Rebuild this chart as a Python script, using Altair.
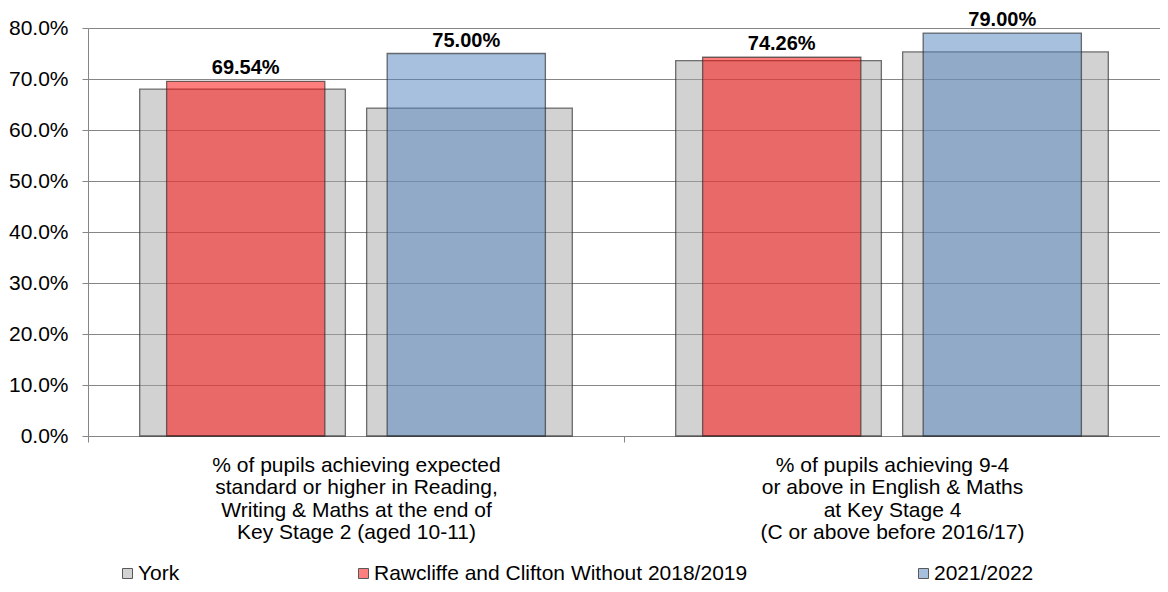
import altair as alt
import pandas as pd

# ---- data ----
categories = [
    "% of pupils achieving expected\nstandard or higher in Reading,\nWriting & Maths at the end of\nKey Stage 2 (aged 10-11)",
    "% of pupils achieving 9-4\nor above in English & Maths\nat Key Stage 4\n(C or above before 2016/17)",
]
periods = ["2018/2019", "2021/2022"]
york_2019 = [0.680, 0.736]
york_2022 = [0.643, 0.753]
local_2019 = [0.6954, 0.7426]
local_2022 = [0.7500, 0.7900]
legend_labels = ["York", "Rawcliffe and Clifton Without 2018/2019", "2021/2022"]
y_ticks = [0.0, 0.1, 0.2, 0.3, 0.4, 0.5, 0.6, 0.7, 0.8]

rows = []
for i, cat in enumerate(categories):
    rows.append({"category": cat, "period": periods[0], "york": york_2019[i],
                 "local": local_2019[i], "series": legend_labels[1], "yseries": legend_labels[0]})
    rows.append({"category": cat, "period": periods[1], "york": york_2022[i],
                 "local": local_2022[i], "series": legend_labels[2], "yseries": legend_labels[0]})
df = pd.DataFrame(rows)

FONT = "Liberation Sans"
GRID = "#868686"
STROKE = "rgba(40,40,40,0.65)"
FS = 21

x_enc = alt.X(
    "category:N",
    sort=categories,
    scale=alt.Scale(paddingInner=0, paddingOuter=0),
    axis=alt.Axis(
        title=None, labelAngle=0, labelExpr="split(datum.label, '\\n')",
        labelLineHeight=22.5, labelFontSize=FS, labelFont=FONT, labelColor="#000000",
        labelLimit=1000, tickBand="extent", tickSize=6, tickColor=GRID,
        domainColor=GRID, labelPadding=12, grid=False,
    ),
)

y_axis = alt.Axis(
    title=None, values=y_ticks, format=".1%", grid=True, gridColor=GRID, gridWidth=1,
    domainColor=GRID, tickColor=GRID, tickSize=6, labelPadding=14,
    labelFontSize=FS, labelFont=FONT, labelColor="#000000",
)
y_scale = alt.Scale(domain=[0, 0.8], nice=False)

york_off = alt.XOffset("period:N", scale=alt.Scale(type="band", domain=periods,
                                                    paddingInner=0.0937, paddingOuter=0.2277))
local_off = alt.XOffset("period:N", scale=alt.Scale(type="band", domain=periods,
                                                     paddingInner=0.2825, paddingOuter=0.3565))


def leg(x, y):
    return alt.Legend(
        orient="none", legendX=x, legendY=y, title=None, symbolType="square",
        symbolSize=100, symbolStrokeColor="#595959", symbolStrokeWidth=1,
        labelFontSize=FS, labelFont=FONT, labelColor="#000000", labelOffset=0,
        padding=0, labelLimit=1000,
    )


LEG_Y = 535

base = alt.Chart(df)

york = base.mark_bar(stroke=STROKE, strokeWidth=1.3).encode(
    x=x_enc, xOffset=york_off,
    y=alt.Y("york:Q", scale=y_scale, axis=y_axis, stack=None),
    color=alt.Color("yseries:N", scale=alt.Scale(domain=[legend_labels[0]], range=["rgba(166,166,166,0.5)"]),
                    legend=leg(29, LEG_Y)),
)

red = base.transform_filter(alt.datum.period == periods[0]).mark_bar(stroke=STROKE, strokeWidth=1.3).encode(
    x=x_enc, xOffset=local_off,
    y=alt.Y("local:Q", scale=y_scale, axis=y_axis, stack=None),
    color=alt.Color("series:N", scale=alt.Scale(domain=[legend_labels[1]], range=["rgba(255,0,0,0.5)"]),
                    legend=leg(265, LEG_Y)),
)

blue = base.transform_filter(alt.datum.period == periods[1]).mark_bar(stroke=STROKE, strokeWidth=1.3).encode(
    x=x_enc, xOffset=local_off,
    y=alt.Y("local:Q", scale=y_scale, axis=y_axis, stack=None),
    color=alt.Color("series:N", scale=alt.Scale(domain=[legend_labels[2]], range=["rgba(79,129,189,0.5)"]),
                    legend=leg(825, LEG_Y)),
)

labels = base.mark_text(fontWeight="bold", fontSize=20, font=FONT, dy=-7,
                        baseline="alphabetic", align="center", color="#000000").encode(
    x=x_enc, xOffset=local_off,
    y=alt.Y("local:Q", scale=y_scale, axis=y_axis, stack=None),
    text=alt.Text("local:Q", format=".2%"),
)

chart = alt.layer(york, red, blue, labels).resolve_scale(
    xOffset="independent", color="independent"
).properties(
    width=1072, height=408,
    autosize=alt.AutoSizeParams(type="none"),
    padding={"left": 80, "top": 20, "right": 0, "bottom": 148},
).configure_view(stroke=None).configure(font=FONT)

chart.save("out.html", embed_options={"renderer": "svg", "actions": False})
